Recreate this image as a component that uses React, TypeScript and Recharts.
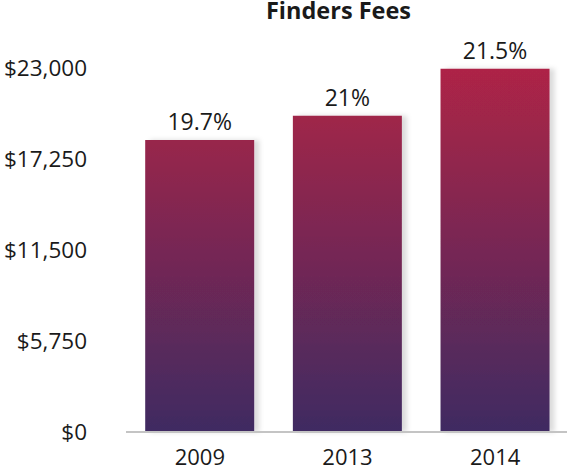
import React from 'react';
import { BarChart, Bar, XAxis, YAxis, LabelList } from 'recharts';

const years = ['2009', '2013', '2014'];
const fees = [18450, 19980, 22950];
const shares = ['19.7%', '21%', '21.5%'];
const yTicks = [0, 5750, 11500, 17250, 23000];

const data = years.map((year, i) => ({ year, fee: fees[i], share: shares[i] }));

const font = '"Open Sans", "Noto Sans", sans-serif';

const formatMoney = (v: number) => '$' + v.toLocaleString('en-US');

export default function App() {
  return (
    <div style={{ position: 'absolute', left: 0, top: 0, width: 567, height: 471, background: '#fff', fontFamily: font }}>
      <div
        style={{
          marginLeft: 117,
          width: 443,
          height: 26,
          textAlign: 'center',
          fontWeight: 700,
          fontSize: 23.5,
          lineHeight: '21px',
          color: '#1a1a1a',
        }}
      >
        Finders Fees
      </div>
      <BarChart
        width={567}
        height={445}
        data={data}
        margin={{ top: 42, right: -2, left: 0, bottom: 0 }}
        barCategoryGap="13%"
      >
        <defs>
          <linearGradient id="feeGrad" gradientUnits="userSpaceOnUse" x1="0" y1="42" x2="0" y2="406">
            <stop offset="0%" stopColor="#ae2446" />
            <stop offset="100%" stopColor="#3f2b62" />
          </linearGradient>
          <filter id="barShadow" x="-10%" y="-10%" width="130%" height="120%">
            <feDropShadow dx="5" dy="0" stdDeviation="2.5" floodColor="#000" floodOpacity="0.14" />
          </filter>
        </defs>
        <XAxis
          dataKey="year"
          height={39}
          tickLine={false}
          axisLine={{ stroke: '#c4c4c4', strokeWidth: 2 }}
          tick={{ fill: '#1a1a1a', fontSize: 22, fontFamily: font }}
          tickMargin={11}
        />
        <YAxis
          width={126}
          domain={[0, 23000]}
          ticks={yTicks}
          tickFormatter={formatMoney}
          axisLine={false}
          tickLine={false}
          tickSize={0}
          tickMargin={39}
          tick={{ fill: '#1a1a1a', fontSize: 22.5, fontFamily: font }}
        />
        <Bar dataKey="fee" fill="url(#feeGrad)" filter="url(#barShadow)" isAnimationActive={false}>
          <LabelList
            dataKey="share"
            position="top"
            offset={10}
            style={{ fill: '#1a1a1a', fontSize: 23, fontFamily: font }}
          />
        </Bar>
      </BarChart>
    </div>
  );
}
